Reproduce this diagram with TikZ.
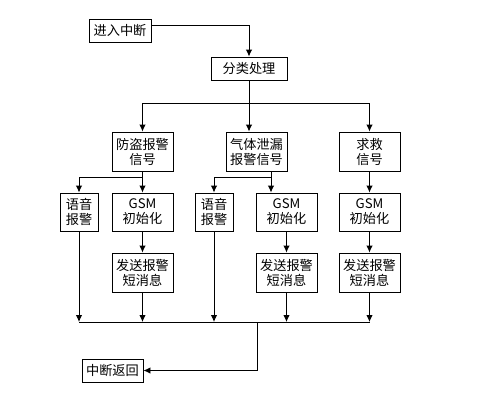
\documentclass[tikz,border=0pt]{standalone}
\usepackage{fontspec}
\setmainfont{Noto Sans CJK SC}
\usetikzlibrary{arrows.meta}

\begin{document}
\begin{tikzpicture}[x=1pt,y=-1pt,>={Latex[length=7pt,width=6.5pt]},line width=0.9pt,
  box/.style={draw,align=center,inner sep=0pt,minimum width=61pt,minimum height=39pt,
    font=\fontsize{13.2}{15}\selectfont},
  small/.style={box,minimum width=38pt,minimum height=38pt},
  flat/.style={box,minimum height=23pt}]
  \useasboundingbox (0,0) rectangle (488,405);
  \node[flat,minimum width=62pt] (enter) at (120,30.5){进入中断};
  \node[flat,minimum width=76pt] (sort) at (249,68.5){分类处理};
  \node[box] (fd) at (142.5,151.5){防盗报警\\信号};
  \node[box] (qt) at (256.5,151.5){气体泄漏\\报警信号};
  \node[box] (qj) at (369.5,151.5){求救\\信号};
  \node[small] (yy1) at (79,212){语音\\报警};
  \node[box,minimum height=38pt] (gsm1) at (142.5,212){GSM\\初始化};
  \node[small] (yy2) at (214,212){语音\\报警};
  \node[box,minimum height=38pt] (gsm2) at (286.5,212){GSM\\初始化};
  \node[box,minimum height=38pt] (gsm3) at (369.5,212){GSM\\初始化};
  \node[box] (fs1) at (142.5,272.5){发送报警\\短消息};
  \node[box] (fs2) at (286.5,272.5){发送报警\\短消息};
  \node[box] (fs3) at (369.5,272.5){发送报警\\短消息};
  \node[flat] (ret) at (112.5,370.5){中断返回};
  % top part
  \draw[->] ([yshift=5pt]enter.east) -| (sort.north);
  \coordinate (b0) at (249,103);
  \draw (sort.south)--(b0);
  \draw[->] (b0) -| (fd.north);
  \draw[->] (b0) -- (b0 |- qt.north);
  \draw[->] (b0) -| (qj.north);
  % branches
  \coordinate (b1) at (142.5,177);
  \draw (fd.south)--(b1);
  \draw[->] (b1) -| (yy1.north);
  \draw[->] (b1) -- (gsm1.north);
  \coordinate (q1) at (271,171);
  \coordinate (b2) at (271,177);
  \draw (q1)--(b2);
  \draw[->] (b2) -| (yy2.north);
  \draw[->] (b2) -- (b2 |- gsm2.north);
  \draw[->] (qj.south) -- (gsm3.north);
  \draw[->] (gsm1.south) -- (fs1.north);
  \draw[->] (gsm2.south) -- (fs2.north);
  \draw[->] (gsm3.south) -- (fs3.north);
  % bottom line
  \coordinate (m) at (257,322);
  \draw (yy1.south |- m) -- (fs3.south |- m);
  \foreach \n in {yy1,fs1,yy2,fs2,fs3}
    \draw[->] (\n.south) -- (\n.south |- m);
  \draw[->] (m) |- (ret.east);
\end{tikzpicture}
\end{document}
